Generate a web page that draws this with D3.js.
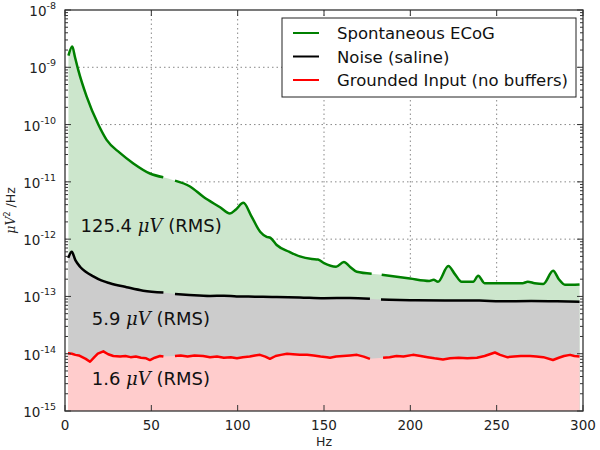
<!DOCTYPE html>
<html>
<head>
<meta charset="utf-8">
<script src="https://cdn.jsdelivr.net/npm/d3@7"></script>
<style>
  body { margin: 0; background: #fff; }
  svg { font-family: "DejaVu Sans", sans-serif; }
</style>
</head>
<body>
<div id="chart"></div>
<script>
// Spectra (Hz, PSD in uV^2/Hz); null marks the notched line-noise bands
const ecogHz  = [2, 4.2, 5.8, 7.7, 12.5, 19.3, 24.1, 31.8, 39.6, 49.2, 56.9, 60, 63.7, 72.4, 80.1, 89.8, 95.5, 99, 103.3, 108, 113, 116.8, 119, 122.6, 130, 136, 143, 146.5, 150, 157, 161.5, 165, 169, 177.6, 180, 183.4, 199.8, 211, 213.5, 216, 222, 226, 229.7, 236.4, 239.3, 243, 265, 268, 272, 277, 282.7, 286, 289.5, 298];
const ecogPsd = [1.6e-9, 2.3e-9, 1.5e-9, 8.9e-10, 3.1e-10, 1e-10, 5.4e-11, 3.2e-11, 2.1e-11, 1.4e-11, 1.2e-11, null, 1.05e-11, 8.3e-12, 5.5e-12, 3.6e-12, 2.8e-12, 3.3e-12, 4.3e-12, 2.5e-12, 1.35e-12, 1.1e-12, 1.05e-12, 7.9e-13, 6.0e-13, 5.0e-13, 4.5e-13, 4.4e-13, 3.8e-13, 3.3e-13, 4.0e-13, 3.3e-13, 2.7e-13, 2.5e-13, null, 2.4e-13, 2.05e-13, 1.86e-13, 1.95e-13, 1.8e-13, 3.4e-13, 2.4e-13, 1.8e-13, 1.8e-13, 2.3e-13, 1.7e-13, 1.7e-13, 1.8e-13, 1.7e-13, 1.65e-13, 2.8e-13, 2.0e-13, 1.6e-13, 1.62e-13];

const noiseHz  = [1.9, 3.9, 6, 8.7, 12, 16.4, 21, 26, 35.7, 45.3, 57, 60, 63.7, 72, 84, 92, 99.4, 110, 120, 136, 150, 165, 176.6, 180, 183, 200, 220, 240, 252, 270, 285, 298];
const noisePsd = [4.7e-13, 6.0e-13, 4.3e-13, 3.3e-13, 2.7e-13, 2.24e-13, 1.9e-13, 1.7e-13, 1.45e-13, 1.26e-13, 1.17e-13, null, 1.1e-13, 1.06e-13, 1.02e-13, 1.03e-13, 1.0e-13, 9.9e-14, 9.8e-14, 9.6e-14, 9.3e-14, 9.4e-14, 9.1e-14, null, 8.8e-14, 8.6e-14, 8.5e-14, 8.5e-14, 8.2e-14, 8.3e-14, 8.2e-14, 8.1e-14];

const groundHz  = [1.7, 4, 6, 8, 10, 12, 14.5, 17, 19, 22.2, 25, 28, 31.9, 35, 38, 41, 44, 47, 49.2, 52, 55, 57, 60, 63.7, 67, 71, 75, 80, 84, 88, 92, 96, 99.6, 103, 107, 110, 112.9, 116, 118.7, 122, 125, 128.6, 132, 136, 140.2, 144, 148, 151.7, 153.5, 157, 161, 165, 169.1, 173, 176.6, 180, 184.2, 188, 192, 196, 201.5, 206, 210, 214, 218.9, 223, 228, 233, 238.6, 243, 246, 249, 252, 256, 260, 264, 269.3, 273, 277, 282.6, 286, 289, 292.5, 295, 298];
const groundPsd = [1.02e-14, 1.0e-14, 9.55e-15, 9.33e-15, 8.71e-15, 8.13e-15, 7.24e-15, 8.71e-15, 1.0e-14, 1.1e-14, 9.77e-15, 9.12e-15, 8.91e-15, 9.12e-15, 8.71e-15, 8.91e-15, 8.51e-15, 8.32e-15, 7.76e-15, 8.51e-15, 9.12e-15, 8.91e-15, null, 9.12e-15, 9.33e-15, 8.91e-15, 9.33e-15, 9.12e-15, 8.71e-15, 8.91e-15, 8.51e-15, 8.71e-15, 8.32e-15, 8.71e-15, 8.91e-15, 9.33e-15, 9.55e-15, 8.91e-15, 8.13e-15, 9.12e-15, 9.55e-15, 1.0e-14, 9.77e-15, 9.55e-15, 9.55e-15, 9.33e-15, 8.91e-15, 8.71e-15, 8.51e-15, 8.91e-15, 9.12e-15, 9.33e-15, 9.55e-15, 8.91e-15, 8.13e-15, null, 8.51e-15, 8.71e-15, 9.12e-15, 8.91e-15, 9.55e-15, 9.12e-15, 8.71e-15, 8.32e-15, 7.94e-15, 8.32e-15, 8.51e-15, 8.32e-15, 8.51e-15, 9.12e-15, 9.77e-15, 1.05e-14, 9.55e-15, 8.71e-15, 8.91e-15, 9.12e-15, 9.12e-15, 8.91e-15, 8.71e-15, 7.76e-15, 8.51e-15, 9.12e-15, 9.55e-15, 9.12e-15, 8.91e-15];

const seriesNames = ["Spontaneous ECoG", "Noise (saline)", "Grounded Input (no buffers)"];
const rmsValues = ["125.4", "5.9", "1.6"];
const xTicks = [0, 50, 100, 150, 200, 250, 300];
const yExponents = [-15, -14, -13, -12, -11, -10, -9, -8];

const width = 600, height = 450;
const margin = { top: 10, right: 17, bottom: 39, left: 65 };

const svg = d3.select("#chart").append("svg")
    .attr("width", width)
    .attr("height", height);

const x = d3.scaleLinear().domain([0, 300]).range([margin.left, width - margin.right]);
const y = d3.scaleLog().domain([1e-15, 1e-8]).range([height - margin.bottom, margin.top]);

const x0 = x(0), x1 = x(300), yTop = y(1e-8), yBot = y(1e-15);

function toPoints(hz, psd) {
    return hz.map((f, i) => ({ f: f, v: psd[i] }));
}

const series = [
    { pts: toPoints(ecogHz, ecogPsd), line: "#008000", fill: "#cce6cc", curve: d3.curveMonotoneX },
    { pts: toPoints(noiseHz, noisePsd), line: "#000000", fill: "#cccccc", curve: d3.curveMonotoneX },
    { pts: toPoints(groundHz, groundPsd), line: "#ff0000", fill: "#ffcccc", curve: d3.curveLinear }
];

// grid
const grid = svg.append("g").attr("stroke", "#888").attr("stroke-width", 1)
    .attr("stroke-dasharray", "1.5,3");
xTicks.slice(1, -1).forEach(t => {
    grid.append("line").attr("x1", x(t)).attr("x2", x(t)).attr("y1", yTop).attr("y2", yBot);
});
yExponents.slice(1, -1).forEach(e => {
    grid.append("line").attr("x1", x0).attr("x2", x1).attr("y1", y(Math.pow(10, e))).attr("y2", y(Math.pow(10, e)));
});

// filled areas, then lines (broken at the notched bands)
series.forEach(s => {
    const area = d3.area()
        .curve(s.curve)
        .x(d => x(d.f))
        .y0(yBot)
        .y1(d => y(d.v));
    svg.append("path")
        .datum(s.pts.filter(d => d.v != null))
        .attr("d", area)
        .attr("fill", s.fill);
});
series.forEach(s => {
    const line = d3.line()
        .curve(s.curve)
        .defined(d => d.v != null)
        .x(d => x(d.f))
        .y(d => y(d.v));
    svg.append("path")
        .datum(s.pts)
        .attr("d", line)
        .attr("fill", "none")
        .attr("stroke", s.line)
        .attr("stroke-width", 2.5)
        .attr("stroke-linejoin", "round");
});

// frame
svg.append("rect")
    .attr("x", x0).attr("y", yTop)
    .attr("width", x1 - x0).attr("height", yBot - yTop)
    .attr("fill", "none").attr("stroke", "#333").attr("stroke-width", 1.3);

// ticks (inward, all sides)
const ticks = svg.append("g").attr("stroke", "#333").attr("stroke-width", 1);
xTicks.forEach(t => {
    ticks.append("line").attr("x1", x(t)).attr("x2", x(t)).attr("y1", yBot).attr("y2", yBot - 6);
    ticks.append("line").attr("x1", x(t)).attr("x2", x(t)).attr("y1", yTop).attr("y2", yTop + 6);
});
yExponents.forEach((e, i) => {
    const yy = y(Math.pow(10, e));
    ticks.append("line").attr("x1", x0).attr("x2", x0 + 6).attr("y1", yy).attr("y2", yy);
    ticks.append("line").attr("x1", x1).attr("x2", x1 - 6).attr("y1", yy).attr("y2", yy);
    if (i < yExponents.length - 1) {
        for (let m = 2; m <= 9; m++) {
            const ym = y(m * Math.pow(10, e));
            ticks.append("line").attr("x1", x0).attr("x2", x0 + 3).attr("y1", ym).attr("y2", ym);
            ticks.append("line").attr("x1", x1).attr("x2", x1 - 3).attr("y1", ym).attr("y2", ym);
        }
    }
});

// tick labels
svg.append("g").selectAll("text").data(xTicks).join("text")
    .attr("x", d => x(d)).attr("y", yBot + 18.5)
    .attr("text-anchor", "middle")
    .attr("font-size", 13.5).attr("fill", "#222")
    .text(d => d);

const yl = svg.append("g").selectAll("text").data(yExponents).join("text")
    .attr("x", x0 - 9).attr("y", d => y(Math.pow(10, d)) + 6)
    .attr("text-anchor", "end")
    .attr("font-size", 13.5).attr("fill", "#222");
yl.append("tspan").text("10");
yl.append("tspan").attr("font-size", 9.5).attr("dy", -7).text(d => String(d));

// axis labels
svg.append("text")
    .attr("x", (x0 + x1) / 2).attr("y", height - 4)
    .attr("text-anchor", "middle").attr("font-size", 12.5).attr("fill", "#222")
    .text("Hz");

const ylab = svg.append("text")
    .attr("transform", `translate(15,${(yTop + yBot) / 2}) rotate(-90)`)
    .attr("text-anchor", "middle").attr("font-size", 12.5).attr("fill", "#222");
ylab.append("tspan").attr("font-family", "DejaVu Serif").attr("font-style", "italic").text("\u03bcV");
ylab.append("tspan").attr("font-size", 8).attr("dy", -5).text("2");
ylab.append("tspan").attr("dy", 5).text(" /Hz");

// RMS annotations
const rmsAnchors = [[9, 1.35e-12], [15.5, 3.2e-14], [15.5, 2.85e-15]];
rmsValues.forEach((v, i) => {
    const t = svg.append("text")
        .attr("x", x(rmsAnchors[i][0])).attr("y", y(rmsAnchors[i][1]))
        .attr("font-size", 18).attr("fill", "#111");
    t.append("tspan").text(v + " ");
    t.append("tspan").attr("font-family", "DejaVu Serif").attr("font-style", "italic").text("\u03bcV");
    t.append("tspan").text(" (RMS)");
});

// legend
const lg = svg.append("g").attr("transform", "translate(282,18)");
lg.append("rect").attr("width", 294).attr("height", 79)
    .attr("fill", "#fff").attr("stroke", "#222").attr("stroke-width", 1);
seriesNames.forEach((name, i) => {
    const yy = 15 + i * 23.5;
    lg.append("line").attr("x1", 11).attr("x2", 37).attr("y1", yy).attr("y2", yy)
        .attr("stroke", series[i].line).attr("stroke-width", 2);
    lg.append("text").attr("x", 55).attr("y", yy + 6)
        .attr("font-size", 16.5).attr("fill", "#111").text(name);
});
</script>
</body>
</html>
